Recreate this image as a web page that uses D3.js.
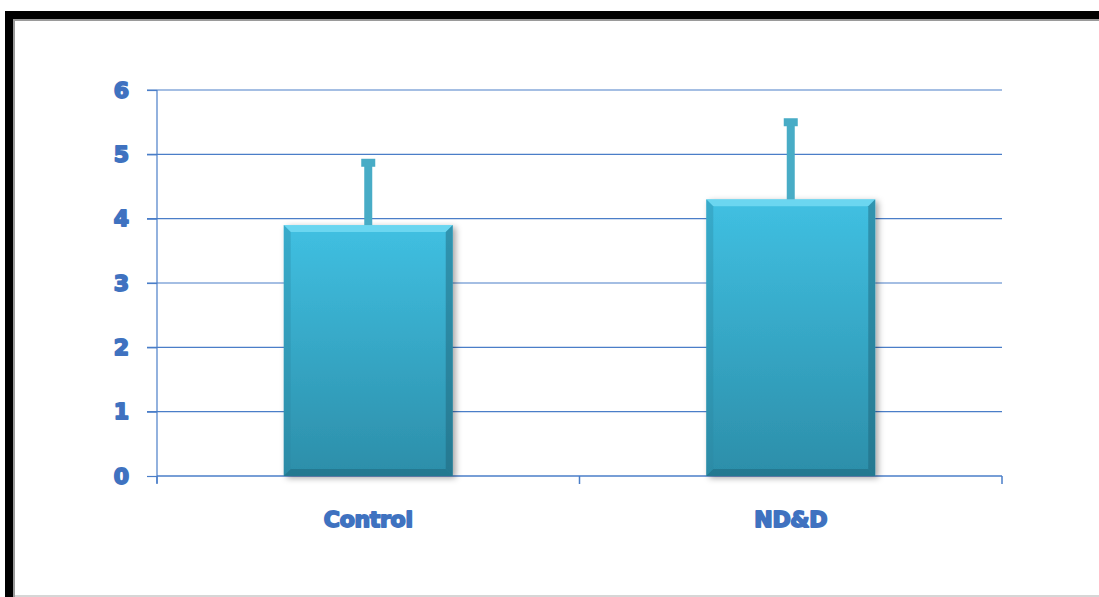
<!DOCTYPE html>
<html>
<head>
<meta charset="utf-8">
<script src="https://cdn.jsdelivr.net/npm/d3@7"></script>
<style>
  body { margin: 0; background: #fff; }
  svg { display: block; }
</style>
</head>
<body>
<div id="chart"></div>
<script>
// data
var categories = ["Control", "ND&D"];
var means = [3.9, 4.3];
var errors = [1.0, 1.23];
var yTicks = [0, 1, 2, 3, 4, 5, 6];

var W = 1099, H = 597;
var margin = {top: 90, right: 97, bottom: 121, left: 157},
  width = W - margin.left - margin.right,
  height = H - margin.top - margin.bottom;

var svg = d3.select("#chart").append("svg")
  .attr("width", W)
  .attr("height", H);

// frame of the pasted picture
svg.append("rect").attr("x", 5).attr("y", 11).attr("width", W - 5).attr("height", 8).attr("fill", "#000");
svg.append("rect").attr("x", 5).attr("y", 11).attr("width", 8).attr("height", H - 11).attr("fill", "#000");
svg.append("rect").attr("x", 13).attr("y", 19).attr("width", W - 13).attr("height", 2).attr("fill", "#9a9a9a");
svg.append("rect").attr("x", 13).attr("y", 19).attr("width", 2).attr("height", H - 19).attr("fill", "#9a9a9a");
svg.append("rect").attr("x", 15).attr("y", 595).attr("width", W - 15).attr("height", 2).attr("fill", "#d6d6d6");

var defs = svg.append("defs");
var grad = defs.append("linearGradient").attr("id", "barGrad")
  .attr("x1", 0).attr("y1", 0).attr("x2", 0).attr("y2", 1);
grad.append("stop").attr("offset", "0%").attr("stop-color", "#40c0e2");
grad.append("stop").attr("offset", "100%").attr("stop-color", "#2c8ea9");

var shadow = defs.append("filter").attr("id", "shadow")
  .attr("x", "-10%").attr("y", "-10%").attr("width", "130%").attr("height", "130%");
shadow.append("feDropShadow").attr("dx", 3).attr("dy", 2).attr("stdDeviation", 3)
  .attr("flood-color", "#000").attr("flood-opacity", 0.35);

var g = svg.append("g")
  .attr("transform", "translate(" + margin.left + "," + margin.top + ")");

var x = d3.scaleBand().domain(categories).range([0, width]).padding(0);
var y = d3.scaleLinear().domain([0, 6]).range([height, 0]);

var axisColor = "#4a7ec8";
var textColor = "#3f72c0";
var fontFam = "'DejaVu Sans', 'Liberation Sans', sans-serif";

// gridlines
g.selectAll(".grid")
  .data(yTicks.filter(function(d) { return d > 0; }))
  .enter().append("line")
    .attr("x1", -10).attr("x2", width)
    .attr("y1", function(d) { return y(d); })
    .attr("y2", function(d) { return y(d); })
    .attr("stroke", axisColor).attr("stroke-width", 1.2);

// y axis
var yAxis = g.append("g")
  .call(d3.axisLeft(y).tickValues(yTicks).tickFormat(d3.format("d")).tickSize(10).tickPadding(18));
yAxis.select(".domain").attr("stroke", axisColor).attr("stroke-width", 1.2)
  .attr("d", "M0," + (height + 7) + "V0");
yAxis.selectAll(".tick line").attr("stroke", axisColor).attr("stroke-width", 1.2);
yAxis.selectAll(".tick text")
  .attr("fill", textColor).attr("stroke", textColor).attr("stroke-width", 1.8)
  .attr("stroke-linejoin", "round")
  .style("font-family", fontFam)
  .style("font-weight", "bold").style("font-size", "22px");

// x axis
var xAxisG = g.append("g").attr("transform", "translate(0," + height + ")");
xAxisG.append("line").attr("x1", 0).attr("x2", width).attr("y1", 0).attr("y2", 0)
  .attr("stroke", axisColor).attr("stroke-width", 1.5);
xAxisG.selectAll(".xtick")
  .data([0, width / 2, width])
  .enter().append("line")
    .attr("x1", function(d) { return d; }).attr("x2", function(d) { return d; })
    .attr("y1", 0).attr("y2", 8)
    .attr("stroke", axisColor).attr("stroke-width", 1.5);
xAxisG.selectAll(".xlabel")
  .data(categories)
  .enter().append("text")
    .attr("x", function(d) { return x(d) + x.bandwidth() / 2; })
    .attr("y", 51)
    .attr("text-anchor", "middle")
    .attr("fill", textColor).attr("stroke", textColor).attr("stroke-width", 1.8)
    .attr("stroke-linejoin", "round")
    .style("font-family", fontFam)
    .style("font-weight", "bold").style("font-size", "22px")
    .style("letter-spacing", "-0.3px")
    .text(function(d) { return d; });

// bars
var barW = x.bandwidth() * 0.4;
var bars = g.selectAll(".bar")
  .data(categories)
  .enter().append("g")
    .attr("class", "bar")
    .attr("transform", function(d) { return "translate(" + (x(d) + (x.bandwidth() - barW) / 2) + ",0)"; });

bars.append("rect")
  .attr("y", function(d, i) { return y(means[i]); })
  .attr("width", barW)
  .attr("height", function(d, i) { return height - y(means[i]); })
  .attr("fill", "url(#barGrad)")
  .attr("filter", "url(#shadow)");

// bevel: light top edge, darker sides and bottom
var bev = 7;
bars.append("path")
  .attr("d", function(d, i) {
    var t = y(means[i]);
    return "M0," + t + "H" + barW + "L" + (barW - bev) + "," + (t + bev) + "H" + bev + "Z";
  })
  .attr("fill", "#7ee0f7").attr("opacity", 0.7);
bars.append("path")
  .attr("d", function(d, i) {
    var t = y(means[i]);
    return "M0," + t + "L" + bev + "," + (t + bev) + "V" + (height - bev) + "L0," + height + "Z";
  })
  .attr("fill", "#2a86a0").attr("opacity", 0.35);
bars.append("path")
  .attr("d", function(d, i) {
    var t = y(means[i]);
    return "M" + barW + "," + t + "L" + (barW - bev) + "," + (t + bev) + "V" + (height - bev) + "L" + barW + "," + height + "Z";
  })
  .attr("fill", "#1c5f73").attr("opacity", 0.45);
bars.append("path")
  .attr("d", "M0," + height + "L" + bev + "," + (height - bev) + "H" + (barW - bev) + "L" + barW + "," + height + "Z")
  .attr("fill", "#1f6a80").attr("opacity", 0.6);

// error bars
var errColor = "#48acc6";
bars.append("rect")
  .attr("x", barW / 2 - 4)
  .attr("y", function(d, i) { return y(means[i] + errors[i]); })
  .attr("width", 8)
  .attr("height", function(d, i) { return y(means[i]) - y(means[i] + errors[i]); })
  .attr("fill", errColor);
bars.append("rect")
  .attr("x", barW / 2 - 7)
  .attr("y", function(d, i) { return y(means[i] + errors[i]) - 2; })
  .attr("width", 14)
  .attr("height", 8)
  .attr("fill", errColor);
</script>
</body>
</html>
